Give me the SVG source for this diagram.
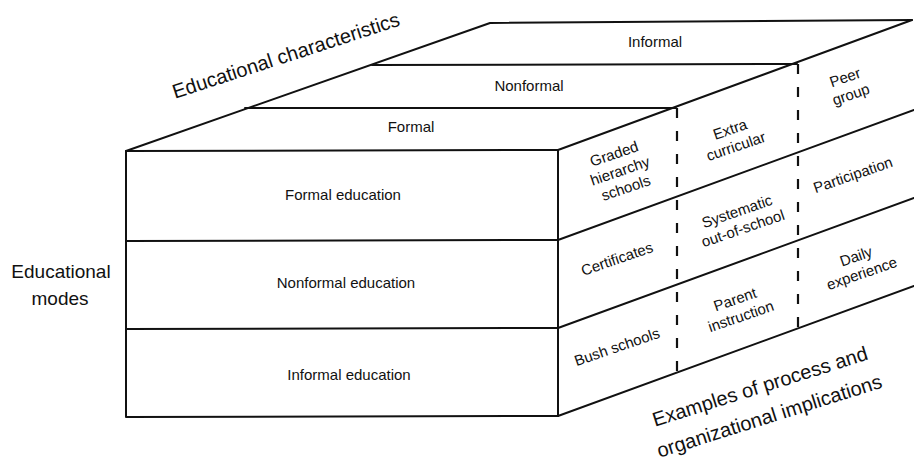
<svg xmlns="http://www.w3.org/2000/svg" width="914" height="468" viewBox="0 0 914 468">
<style>
.ln{fill:none;stroke:#111;stroke-width:2;stroke-linejoin:round;stroke-linecap:round}
.ds{fill:none;stroke:#111;stroke-width:2.2;stroke-dasharray:10 13}
.t{font-family:"Liberation Sans",Arial,sans-serif;font-size:15px;fill:#111;text-anchor:middle}
.big{font-family:"Liberation Sans",Arial,sans-serif;font-size:20px;fill:#111;text-anchor:middle}
.mid{font-family:"Liberation Sans",Arial,sans-serif;font-size:19px;fill:#111;text-anchor:middle}
</style>
<rect width="914" height="468" fill="#fff"/>
<g id="connectors">
  <path class="ln" d="M126,151 L558,150 L558,416 L126,417 Z"/>
  <path class="ln" d="M126,241 L558,240"/>
  <path class="ln" d="M126,329 L558,328"/>
  <path class="ln" d="M126,151 L490,23 L912,20"/>
  <path class="ln" d="M558,150 L912,20"/>
  <path class="ln" d="M245,108 L676,108"/>
  <path class="ln" d="M372,65 L797,64"/>
  <path class="ln" d="M558,240 L914,110"/>
  <path class="ln" d="M558,328 L914,198"/>
  <path class="ln" d="M558,416 L914,286"/>
  <path class="ds" d="M677,108 L677,373"/>
  <path class="ds" d="M798,64 L798,330"/>
</g>
<g id="top-formal"><text class="t" x="411" y="132">Formal</text></g>
<g id="top-nonformal"><text class="t" x="529" y="91">Nonformal</text></g>
<g id="top-informal"><text class="t" x="655" y="47">Informal</text></g>
<g id="label-characteristics"><text class="big" transform="translate(288,62) rotate(-18)">Educational characteristics</text></g>
<g id="formal-education"><text class="t" x="343" y="200">Formal education</text></g>
<g id="nonformal-education"><text class="t" x="346" y="288">Nonformal education</text></g>
<g id="informal-education"><text class="t" x="349" y="380">Informal education</text></g>
<g id="label-modes">
  <text class="mid" x="61" y="278">Educational</text>
  <text class="mid" x="60" y="305">modes</text>
</g>
<g id="cell-graded"><text class="t" transform="translate(620,171) rotate(-19)"><tspan x="0" y="-13">Graded</tspan><tspan x="0" y="5">hierarchy</tspan><tspan x="0" y="23">schools</tspan></text></g>
<g id="cell-extra"><text class="t" transform="translate(733,138) rotate(-19)"><tspan x="0" y="-4">Extra</tspan><tspan x="0" y="14">curricular</tspan></text></g>
<g id="cell-peer"><text class="t" transform="translate(848,86) rotate(-19)"><tspan x="0" y="-4">Peer</tspan><tspan x="0" y="14">group</tspan></text></g>
<g id="cell-certificates"><text class="t" transform="translate(617,259) rotate(-19)"><tspan x="0" y="5">Certificates</tspan></text></g>
<g id="cell-systematic"><text class="t" transform="translate(740,220) rotate(-19)"><tspan x="0" y="-4">Systematic</tspan><tspan x="0" y="14">out-of-school</tspan></text></g>
<g id="cell-participation"><text class="t" transform="translate(853,175) rotate(-19)"><tspan x="0" y="5">Participation</tspan></text></g>
<g id="cell-bush"><text class="t" transform="translate(617,347) rotate(-19)"><tspan x="0" y="5">Bush schools</tspan></text></g>
<g id="cell-parent"><text class="t" transform="translate(738,308) rotate(-19)"><tspan x="0" y="-4">Parent</tspan><tspan x="0" y="14">instruction</tspan></text></g>
<g id="cell-daily"><text class="t" transform="translate(859,265) rotate(-19)"><tspan x="0" y="-4">Daily</tspan><tspan x="0" y="14">experience</tspan></text></g>
<g id="label-examples"><text class="big" transform="translate(762,393) rotate(-17.5)"><tspan x="0" y="0">Examples of process and</tspan><tspan x="0" y="31">organizational implications</tspan></text></g>
</svg>
